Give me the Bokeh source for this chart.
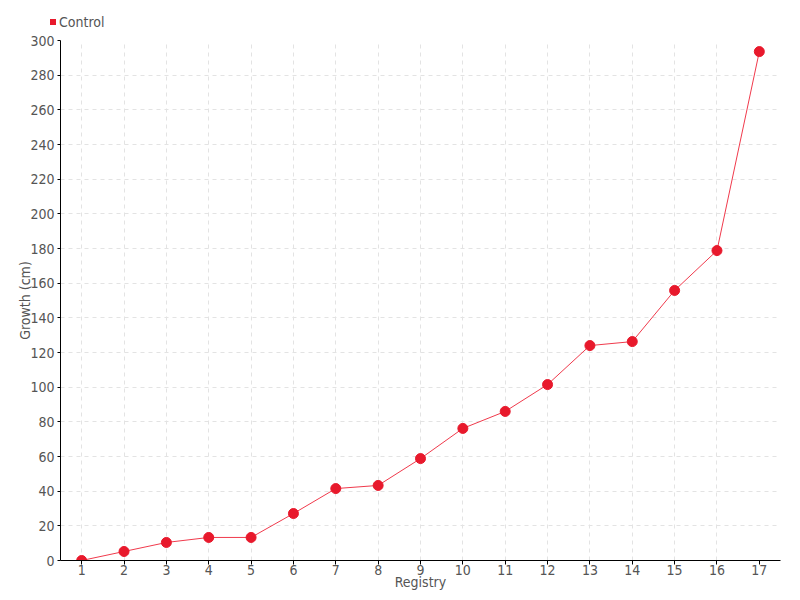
from bokeh.plotting import figure
from bokeh.models import Range1d, FactorRange, SingleIntervalTicker, Div
from bokeh.layouts import column
from bokeh.embed import file_html
from bokeh.resources import INLINE

categories = [str(i) for i in range(1, 18)]
control = [0, 5.2, 10.4, 13.3, 13.3, 27.1, 41.5, 43.3, 58.8, 76.2, 86.0, 101.5, 124.0, 126.3, 155.8, 178.8, 293.6]
series_name = "Control"

FONT = "DejaVu Sans Condensed"
RED = "#e8192c"
LINE_RED = "#f03a4c"
GRAY = "#555555"

legend_div = Div(
    text=(f'<div style="padding-left:50px; padding-top:14px; font-family:\'{FONT}\'; '
          f'font-size:14px; line-height:16px; color:{GRAY}; white-space:nowrap;">'
          f'<span style="display:inline-block; width:6px; height:6px; background:{RED}; '
          f'margin-right:3px; vertical-align:middle; position:relative; top:-1px;"></span>'
          f'{series_name}</div>'),
    width=800, height=30, margin=0)

p = figure(width=800, height=570, x_range=FactorRange(*categories, range_padding=0),
           y_range=Range1d(0, 300), output_backend="svg", toolbar_location=None,
           min_border_left=60, min_border_right=20, min_border_top=10, min_border_bottom=40,
           margin=0)
p.outline_line_color = None

p.line(categories, control, line_color=LINE_RED, line_width=1)
p.scatter(categories, control, size=10, fill_color=RED, line_color=RED)

p.yaxis.ticker = SingleIntervalTicker(interval=20)
for ax in (p.xaxis[0], p.yaxis[0]):
    ax.major_label_text_font = FONT
    ax.major_label_text_font_size = "14px"
    ax.major_label_text_color = GRAY
    ax.axis_label_text_font = FONT
    ax.axis_label_text_font_size = "14px"
    ax.axis_label_text_color = GRAY
    ax.axis_label_text_font_style = "normal"
    ax.axis_line_color = "black"
    ax.major_tick_line_color = "black"
    ax.minor_tick_line_color = None
    ax.major_tick_in = 0
p.xaxis.major_tick_out = 4
p.yaxis.major_tick_out = 3
p.xaxis.axis_label = "Registry"
p.yaxis.axis_label = "Growth (cm)"
p.xaxis.axis_label_standoff = -4
p.yaxis.axis_label_standoff = -6
p.xaxis.major_label_standoff = 0
p.yaxis.major_label_standoff = 2

p.xgrid.grid_line_color = "#e3e3e3"
p.xgrid.grid_line_dash = "4 4"
p.ygrid.grid_line_color = "#e3e3e3"
p.ygrid.grid_line_dash = "4 4"

layout = column(legend_div, p, spacing=0, margin=0)
open("out.html", "w").write(file_html(layout, INLINE))
